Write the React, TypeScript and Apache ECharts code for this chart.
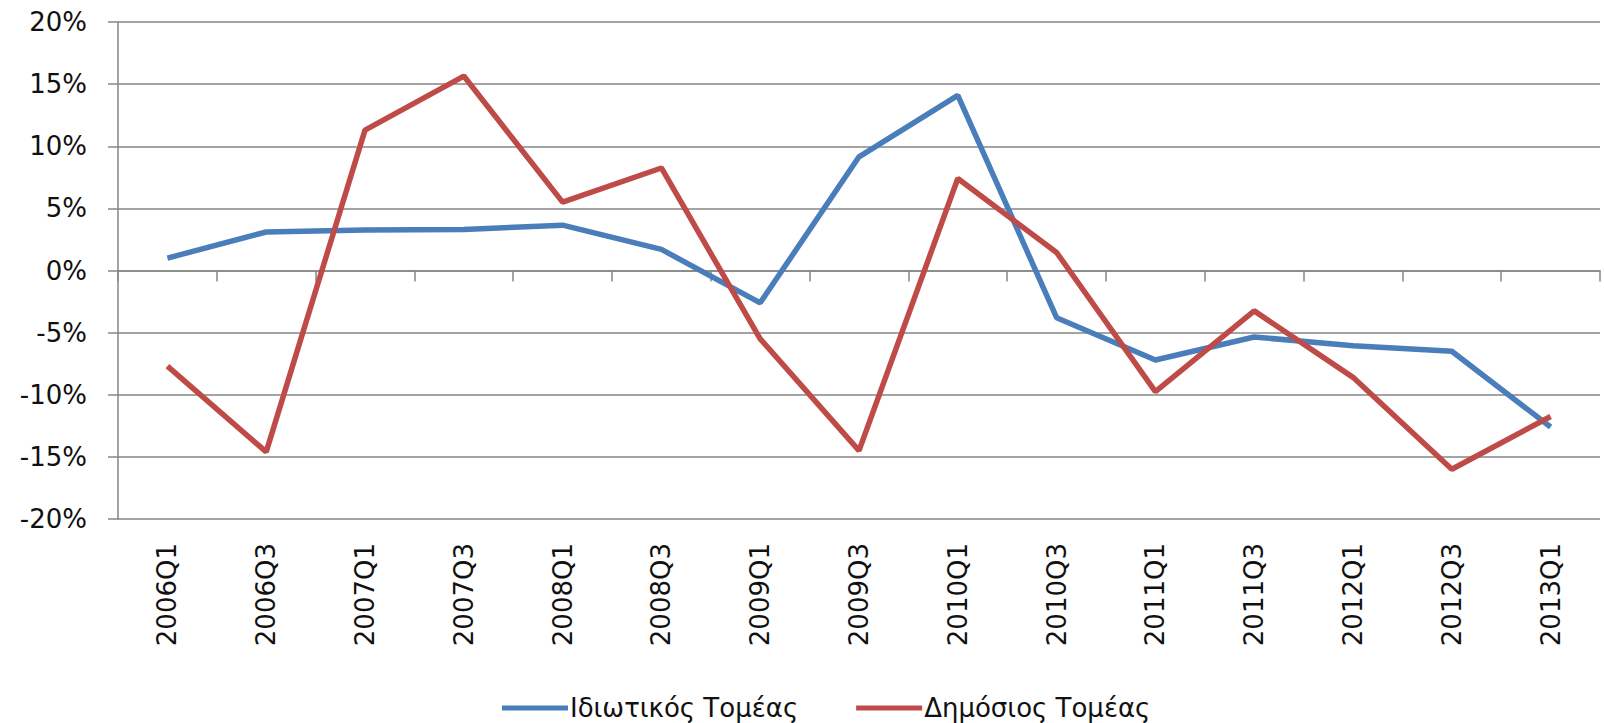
import React, { useEffect, useRef } from "react";
import * as echarts from "echarts";

const categories = [
  "2006Q1", "2006Q3", "2007Q1", "2007Q3", "2008Q1", "2008Q3", "2009Q1", "2009Q3",
  "2010Q1", "2010Q3", "2011Q1", "2011Q3", "2012Q1", "2012Q3", "2013Q1",
];

const privateSector = [1.0, 3.1, 3.25, 3.3, 3.65, 1.7, -2.6, 9.15, 14.1, -3.8, -7.2, -5.35, -6.05, -6.5, -12.6];
const publicSector = [-7.7, -14.6, 11.3, 15.65, 5.5, 8.25, -5.5, -14.5, 7.4, 1.45, -9.75, -3.25, -8.6, -16.0, -11.75];

const seriesNames = ["Ιδιωτικός Τομέας", "Δημόσιος Τομέας"];
const yTicks = { min: -20, max: 20, interval: 5 };

const FONT = "DejaVu Sans";
const GRID_COLOR = "#868686";
const BLUE = "#4A7EBB";
const RED = "#BE4B48";

export default function App() {
  const ref = useRef<HTMLDivElement>(null);

  useEffect(() => {
    if (!ref.current) return;
    const chart = echarts.init(ref.current, undefined, { renderer: "svg" });
    chart.setOption({
      animation: false,
      backgroundColor: "#ffffff",
      grid: { left: 118, right: 4, top: 22, bottom: 204, containLabel: false },
      legend: {
        left: 497,
        top: 690,
        icon: "rect",
        itemWidth: 66,
        itemHeight: 5,
        itemGap: 58,
        textStyle: { fontFamily: FONT, fontSize: 26, color: "#111", padding: [0, 0, 0, -3] },
        data: [
          { name: seriesNames[0], itemStyle: { color: BLUE } },
          { name: seriesNames[1], itemStyle: { color: RED } },
        ],
      },
      xAxis: [
        {
          type: "category",
          data: categories,
          position: "bottom",
          boundaryGap: true,
          axisLine: { show: false, onZero: false },
          axisTick: { show: false },
          splitLine: { show: false },
          axisLabel: {
            interval: 0,
            rotate: 90,
            margin: 24,
            fontFamily: FONT,
            fontSize: 26,
            color: "#111",
          },
        },
        {
          type: "category",
          data: categories,
          position: "bottom",
          boundaryGap: true,
          axisLine: { show: true, onZero: true, lineStyle: { color: GRID_COLOR, width: 1.5 } },
          axisTick: { show: true, length: 11, interval: 0, lineStyle: { color: GRID_COLOR, width: 1.5 } },
          axisLabel: { show: false },
          splitLine: { show: false },
        },
      ],
      yAxis: {
        type: "value",
        min: yTicks.min,
        max: yTicks.max,
        interval: yTicks.interval,
        axisLine: { show: true, lineStyle: { color: GRID_COLOR, width: 1.5 } },
        axisTick: { show: true, length: 10, lineStyle: { color: GRID_COLOR, width: 1.5 } },
        splitLine: { show: true, lineStyle: { color: GRID_COLOR, width: 1.5 } },
        axisLabel: {
          formatter: "{value}%",
          margin: 31,
          fontFamily: FONT,
          fontSize: 26,
          color: "#111",
        },
      },
      series: [
        {
          name: seriesNames[0],
          type: "line",
          xAxisIndex: 0,
          data: privateSector,
          symbol: "none",
          showSymbol: false,
          lineStyle: { color: BLUE, width: 5.5 },
          itemStyle: { color: BLUE },
          z: 3,
        },
        {
          name: seriesNames[1],
          type: "line",
          xAxisIndex: 0,
          data: publicSector,
          symbol: "none",
          showSymbol: false,
          lineStyle: { color: RED, width: 5.5 },
          itemStyle: { color: RED },
          z: 4,
        },
      ],
    });
    return () => chart.dispose();
  }, []);

  return (
    <div
      ref={ref}
      style={{ position: "fixed", left: 0, top: 0, width: 1604, height: 723, background: "#fff" }}
    />
  );
}
